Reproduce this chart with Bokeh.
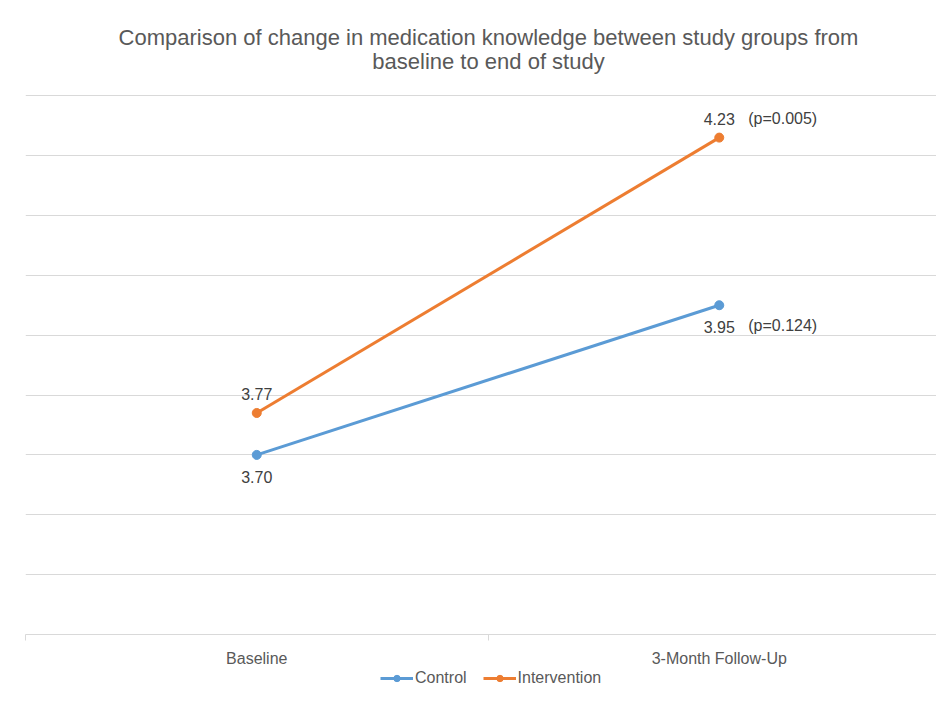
from bokeh.plotting import figure
from bokeh.models import Range1d, FixedTicker, Legend, LegendItem, Label
from bokeh.layouts import column
from bokeh.core.properties import value
from bokeh.embed import file_html
from bokeh.resources import INLINE

categories = ["Baseline", "3-Month Follow-Up"]
series_names = ["Control", "Intervention"]
control = [3.70, 3.95]
intervention = [3.77, 4.23]
p_values = ["(p=0.124)", "(p=0.005)"]  # control, intervention at follow-up
title_lines = ["Comparison of change in medication knowledge between study groups from",
               "baseline to end of study"]

FONT = "Liberation Sans"
GREY = "#595959"
LABEL = "#404040"
BLUE = "#5B9BD5"
ORANGE = "#ED7D31"

x = [i + 0.5 for i in range(len(categories))]

W = 936
ML, MR = 25, 0
CAT_PX = 462.5
H_TITLE, H_MAIN, H_LEG = 94, 575, 20


def bare(h):
    f = figure(width=W, height=h, output_backend="svg", toolbar_location=None,
               x_range=Range1d(0, 1), y_range=Range1d(0, 1),
               min_border_left=ML, min_border_right=MR, min_border_top=0, min_border_bottom=0)
    f.axis.visible = False
    f.grid.visible = False
    f.outline_line_color = None
    return f


# ---- title strip
tf = bare(H_TITLE)
for i, line in enumerate(title_lines):
    tf.add_layout(Label(x=463, y=H_TITLE - 37 - i * 24, x_units="screen", y_units="screen", text=line,
                        text_align="center", text_baseline="middle", text_font=FONT,
                        text_font_size="22px", text_color=GREY))

# ---- main chart
p = figure(width=W, height=H_MAIN, output_backend="svg", toolbar_location=None,
           x_range=Range1d(0, (W - ML - MR) / CAT_PX), y_range=Range1d(3.4, 4.302),
           min_border_left=ML, min_border_right=MR, min_border_top=0, min_border_bottom=34)
p.outline_line_color = None
p.background_fill_color = "white"

p.yaxis.visible = False
p.ygrid.ticker = FixedTicker(ticks=[3.5, 3.6, 3.7, 3.8, 3.9, 4.0, 4.1, 4.2, 4.3])
p.ygrid.grid_line_color = "#d9d9d9"
p.ygrid.grid_line_width = 1
p.xgrid.visible = False

xa = p.xaxis[0]
xa.ticker = FixedTicker(ticks=x, minor_ticks=[float(i) for i in range(len(categories) + 1)])
xa.major_label_overrides = {xi: c for xi, c in zip(x, categories)}
xa.major_tick_line_color = None
xa.major_tick_out = 0
xa.major_tick_in = 0
xa.minor_tick_out = 6
xa.minor_tick_in = 0
xa.minor_tick_line_color = "#d9d9d9"
xa.axis_line_color = "#d9d9d9"
xa.major_label_text_font = FONT
xa.major_label_text_font_size = "16px"
xa.major_label_text_color = GREY
xa.major_label_standoff = 9

p.line(x, control, line_color=BLUE, line_width=3)
p.scatter(x, control, size=9, fill_color=BLUE, line_color=BLUE)
p.line(x, intervention, line_color=ORANGE, line_width=3)
p.scatter(x, intervention, size=9, fill_color=ORANGE, line_color=ORANGE)

# data labels
p.text(x, control, text=[f"{v:.2f}" for v in control], text_align="center", text_baseline="middle",
       y_offset=22, text_font=value(FONT), text_font_size="16px", text_color=LABEL)
p.text(x, intervention, text=[f"{v:.2f}" for v in intervention], text_align="center", text_baseline="middle",
       y_offset=-19, text_font=value(FONT), text_font_size="16px", text_color=LABEL)
p.text([x[1]], [control[1]], text=[p_values[0]], text_align="left", text_baseline="middle",
       x_offset=29, y_offset=20, text_font=value(FONT), text_font_size="16px", text_color=LABEL)
p.text([x[1]], [intervention[1]], text=[p_values[1]], text_align="left", text_baseline="middle",
       x_offset=29, y_offset=-19, text_font=value(FONT), text_font_size="16px", text_color=LABEL)

# ---- legend strip (its renderers lie outside its visible range; only legend glyphs show)
lf = bare(H_LEG)
items = []
for name, col, vals in zip(series_names, [BLUE, ORANGE], [control, intervention]):
    r1 = lf.line(x, vals, line_color=col, line_width=3)
    r2 = lf.scatter(x, vals, size=7, fill_color=col, line_color=col)
    items.append(LegendItem(label=name, renderers=[r1, r2]))
legend = Legend(items=items, orientation="horizontal", location=(355, 2),
                label_text_font=FONT, label_text_font_size="16px", label_text_color=GREY,
                border_line_color=None, background_fill_alpha=0,
                glyph_width=33, glyph_height=16, label_height=16, label_standoff=2, spacing=16,
                padding=0, margin=0)
lf.add_layout(legend, "center")

layout = column(tf, p, lf, spacing=0)
open("out.html", "w").write(file_html(layout, INLINE))
